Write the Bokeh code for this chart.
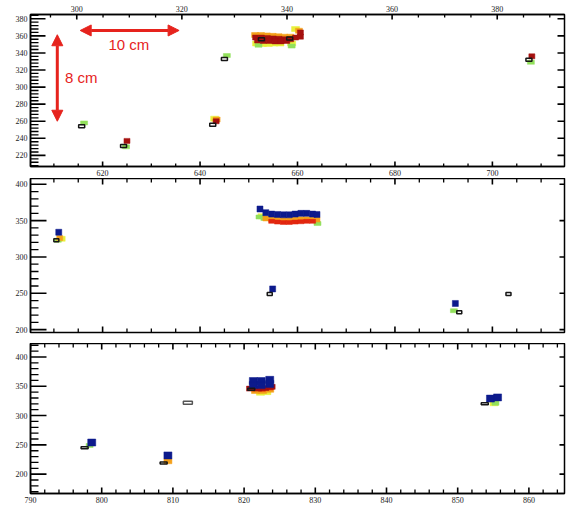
import numpy as np
from bokeh.plotting import figure
from bokeh.layouts import column
from bokeh.models import (Range1d, LinearAxis, SingleIntervalTicker,
                          Arrow, NormalHead, Label)
from bokeh.embed import file_html
from bokeh.resources import INLINE

# ---------------- hit positions, panel 1 (bottom scale 605-715) ----------------
top_yellow_x = [643.0, 651.6, 652.8, 654.0, 655.2, 656.4, 658.8, 659.6]
top_yellow_y = [263, 351, 350.5, 350.5, 351, 351, 351, 368]
top_green_x = [616.2, 624.8, 645.5, 707.9, 652.0, 658.8]
top_green_y = [258, 230, 337, 329, 349, 348]
top_orange_x = [651.3, 652.5, 653.7, 654.9, 656.1, 657.3, 658.5, 660.3, 643.4]
top_orange_y = [361, 361, 360.5, 360, 359.5, 359, 359, 366, 262]
top_darkred_x = [625.0, 643.3, 708.1,
                 651.4, 652.6, 653.8, 655.0, 656.2, 657.4, 658.6,
                 651.8, 653.0, 654.2, 655.4, 656.6, 657.8,
                 659.6, 660.6, 660.6]
top_darkred_y = [237, 260, 336,
                 358, 358, 357.5, 357, 356.5, 356, 356,
                 354.5, 354, 354, 353.5, 353.5, 354,
                 358, 359, 364]
top_black_x = [615.7, 624.3, 642.6, 645.0, 707.5, 652.6, 658.4]
top_black_y = [254, 231, 256, 333, 332, 356, 357]

# ---------------- hit positions, panel 2 ----------------
mid_yellow_x = [652.6, 611.6]
mid_yellow_y = [356, 325]
mid_green_x = [610.8, 652.2, 653.2, 664.1, 692.1]
mid_green_y = [323, 355, 353, 346, 226]
mid_orange_x = [611.2, 653.5, 654.7, 655.9, 657.1, 658.3, 659.5, 660.7, 661.9, 663.1, 664.0]
mid_orange_y = [326, 353, 352, 351.5, 351, 351, 351.5, 352, 352, 352, 351.5]
mid_red_x = [654.7, 655.9, 657.1, 658.3, 659.5, 660.7, 661.9, 663.1]
mid_red_y = [349, 348, 347.5, 347.5, 348, 348.5, 349, 349]
mid_blue_x = [611.0, 652.3, 653.5, 654.7, 655.9, 657.1, 658.3, 659.5,
              660.7, 661.9, 663.1, 664.0, 654.9, 692.4]
mid_blue_y = [334, 366, 361, 359, 358.5, 358, 358, 359,
              360, 360, 359, 358.5, 256, 236]
mid_black_x = [610.5, 654.3, 693.2, 703.3]
mid_black_y = [323, 249, 224, 249]

# ---------------- hit positions, panel 3 (scale 790-865) ----------------
bot_yellow_x = [822.3, 823.2, 855.1]
bot_yellow_y = [339, 340, 321]
bot_green_x = [798.3, 855.3]
bot_green_y = [249, 321]
bot_orange_x = [809.3, 821.6, 822.6, 823.6]
bot_orange_y = [222, 342, 342, 344]
bot_red_x = [822.5, 823.6]
bot_red_y = [345, 347]
bot_darkred_x = [820.9, 821.9, 822.9, 823.8]
bot_darkred_y = [346, 346, 347, 349]
bot_blue_x = [798.6, 809.3, 821.3, 822.4, 823.6, 821.3, 822.4, 823.6, 854.6, 855.6]
bot_blue_y = [254, 232, 359, 359, 361, 352, 352, 354, 329, 331]
bot_black_x = [797.6, 808.7, 821.0, 853.8]
bot_black_y = [245, 219, 345, 320]
bot_gray_x = [812.1]
bot_gray_y = [322]

# scales
top_scale = (291.2, 392.8)
x_range_12 = (605.2, 714.8)
y_range_1 = (207, 385)
y_range_2 = (196, 408)
x_range_3 = (790, 865)
y_range_3 = (167, 423)

NAVY = "#0c1a8c"
DARKRED = "#a5110f"
RED = "#e2260f"
ORANGE = "#f4a01a"
YELLOW = "#e9f03c"
GREEN = "#92e05c"
BLACK = "#161616"
ARROW_RED = "#e6231d"

W = 566
FONT = "Liberation Serif"


def label_axis(p, side, interval, range_name=None):
    kw = {"x_range_name": range_name} if range_name else {}
    ax = LinearAxis(ticker=SingleIntervalTicker(interval=interval, num_minor_ticks=0), **kw)
    ax.axis_line_color = "black"
    ax.axis_line_width = 1.5
    ax.major_tick_in = 0
    ax.major_tick_out = 0
    ax.minor_tick_in = 0
    ax.minor_tick_out = 0
    ax.major_label_text_font = FONT
    ax.major_label_text_font_size = "8px"
    ax.major_label_text_color = "#222222"
    ax.major_label_standoff = 3
    p.add_layout(ax, side)


def tick_values(lo, hi, step):
    first = np.ceil(lo / step - 1e-9) * step
    return np.arange(first, hi + 1e-9, step)


def edge_ticks(p, side, lo, hi, major, nminor, major_len, minor_len, range_name=None):
    """Inward tick marks along one edge of the frame."""
    majors = tick_values(lo, hi, major)
    minors = []
    if nminor:
        minors = [v for v in tick_values(lo, hi, major / nminor)
                  if np.min(np.abs(majors - v)) > 1e-6]
    xr, yr = p.x_range, p.y_range
    angle = {"below": np.pi / 2, "above": -np.pi / 2, "left": 0.0, "right": np.pi}[side]
    kw = {"x_range_name": range_name} if range_name else {}
    for vals, length, lw in ((majors, major_len, 1.6), (minors, minor_len, 1.3)):
        if len(vals) == 0 or length == 0:
            continue
        vals = list(vals)
        if side == "below":
            xs, ys = vals, [yr.start] * len(vals)
        elif side == "above":
            xs, ys = vals, [yr.end] * len(vals)
        elif side == "left":
            xs, ys = [xr.start] * len(vals), vals
        else:
            xs, ys = [xr.end] * len(vals), vals
        p.ray(x=xs, y=ys, length=length, angle=angle, length_units="screen",
              line_color="black", line_width=lw, **kw)


def panel(height, xr, yr, top, bottom):
    p = figure(width=W, height=height, x_range=Range1d(*xr), y_range=Range1d(*yr),
               output_backend="svg", toolbar_location=None,
               x_axis_location=None, y_axis_location=None)
    p.min_border_left = 30
    p.min_border_right = 2
    p.min_border_top = top
    p.min_border_bottom = bottom
    p.grid.grid_line_color = None
    p.outline_line_color = "black"
    p.outline_line_width = 1.5
    p.background_fill_color = "white"
    p.border_fill_color = "white"
    return p


def hits(p, xs, ys, color, w, h, hollow=False):
    if hollow:
        p.rect(xs, ys, width=w, height=h, width_units="screen", height_units="screen",
               fill_color=None, line_color=color, line_width=1.5)
    else:
        p.rect(xs, ys, width=w, height=h, width_units="screen", height_units="screen",
               fill_color=color, line_color=color, line_width=0.5)


# ---- panel 1 ----
p1 = panel(178, x_range_12, y_range_1, 14, 12)
p1.extra_x_ranges = {"upper": Range1d(*top_scale)}
label_axis(p1, "below", 20)
label_axis(p1, "above", 20, range_name="upper")
label_axis(p1, "left", 20)
edge_ticks(p1, "below", *x_range_12, 20, 4, 5, 3)
edge_ticks(p1, "above", *top_scale, 20, 4, 5, 3, range_name="upper")
edge_ticks(p1, "left", *y_range_1, 20, 5, 15, 8)
edge_ticks(p1, "right", *y_range_1, 20, 0, 7, 0)

hits(p1, top_yellow_x, top_yellow_y, YELLOW, 8, 5)
hits(p1, top_green_x, top_green_y, GREEN, 7, 4)
hits(p1, top_orange_x, top_orange_y, ORANGE, 7, 5)
hits(p1, top_darkred_x, top_darkred_y, DARKRED, 6, 5)
hits(p1, top_black_x, top_black_y, BLACK, 6, 3, hollow=True)

head = dict(size=11, fill_color=ARROW_RED, line_color=ARROW_RED)
p1.add_layout(Arrow(start=NormalHead(**head), end=NormalHead(**head),
                    x_start=615.4, y_start=366.3, x_end=635.7, y_end=366.3,
                    line_color=ARROW_RED, line_width=3))
p1.add_layout(Arrow(start=NormalHead(**head), end=NormalHead(**head),
                    x_start=610.7, y_start=361.3, x_end=610.7, y_end=260.0,
                    line_color=ARROW_RED, line_width=3))
p1.add_layout(Label(x=625.4, y=349.5, text="10 cm", text_font="Liberation Sans",
                    text_font_size="15px", text_color=ARROW_RED,
                    text_align="center", text_baseline="middle"))
p1.add_layout(Label(x=612.3, y=311.0, text="8 cm", text_font="Liberation Sans",
                    text_font_size="15px", text_color=ARROW_RED,
                    text_align="left", text_baseline="middle"))

# ---- panel 2 ----
p2 = panel(165, x_range_12, y_range_2, 0, 11)
label_axis(p2, "left", 50)
edge_ticks(p2, "below", *x_range_12, 20, 4, 6, 4)
edge_ticks(p2, "above", *x_range_12, 20, 4, 6, 4)
edge_ticks(p2, "left", *y_range_2, 50, 5, 16, 8)
edge_ticks(p2, "right", *y_range_2, 50, 0, 5, 0)

hits(p2, mid_yellow_x, mid_yellow_y, YELLOW, 7, 5)
hits(p2, mid_green_x, mid_green_y, GREEN, 7, 4)
hits(p2, mid_orange_x, mid_orange_y, ORANGE, 6, 5)
hits(p2, mid_red_x, mid_red_y, RED, 6, 4)
hits(p2, mid_blue_x, mid_blue_y, NAVY, 6, 6)
hits(p2, mid_black_x, mid_black_y, BLACK, 5, 3, hollow=True)

# ---- panel 3 ----
p3 = panel(162, x_range_3, y_range_3, 0, 9)
label_axis(p3, "below", 10)
label_axis(p3, "left", 50)
edge_ticks(p3, "below", *x_range_3, 10, 5, 6, 4)
edge_ticks(p3, "above", *x_range_3, 10, 5, 6, 4)
edge_ticks(p3, "left", *y_range_3, 50, 5, 16, 8)
edge_ticks(p3, "right", *y_range_3, 50, 0, 5, 0)

hits(p3, bot_yellow_x, bot_yellow_y, YELLOW, 8, 5)
hits(p3, bot_green_x, bot_green_y, GREEN, 7, 4)
hits(p3, bot_orange_x, bot_orange_y, ORANGE, 8, 5)
hits(p3, bot_red_x, bot_red_y, RED, 7, 4)
hits(p3, bot_darkred_x, bot_darkred_y, DARKRED, 8, 5)
hits(p3, bot_blue_x, bot_blue_y, NAVY, 8, 7)
hits(p3, bot_black_x, bot_black_y, BLACK, 7, 2, hollow=True)
hits(p3, bot_gray_x, bot_gray_y, "#555555", 9, 3, hollow=True)

layout = column(p1, p2, p3, spacing=0)
open("out.html", "w").write(file_html(layout, INLINE))
